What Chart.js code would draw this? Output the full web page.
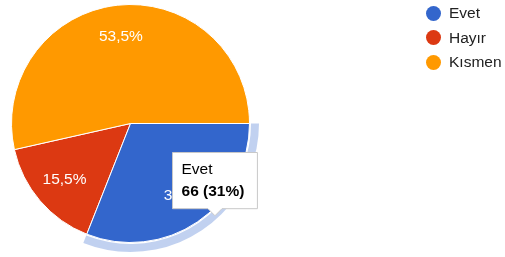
<!DOCTYPE html>
<html>
<head>
<meta charset="utf-8">
<script src="https://cdn.jsdelivr.net/npm/chart.js@4/dist/chart.umd.min.js"></script>
<style>
  html, body { margin: 0; padding: 0; background: #fff; }
  #wrap { position: relative; width: 505px; height: 257px; }
  #legend {
    position: absolute;
    left: 426px;
    top: 1px;
    font: 15.5px 'Liberation Sans', Arial, sans-serif;
    color: #222;
  }
  .legend-item { display: flex; align-items: center; height: 24.5px; }
  .legend-dot { width: 15px; height: 15px; border-radius: 50%; margin-right: 8px; }
</style>
</head>
<body>
<div id="wrap">
  <canvas id="pie" width="505" height="257"></canvas>
  <div id="legend"></div>
</div>
<script>
const labels = ['Evet', 'Hayır', 'Kısmen'];
const counts = [66, 33, 114];
const colors = ['#3366cc', '#dc3912', '#ff9900'];
const highlighted = 0; // slice under the cursor in the screenshot

const FONT = "'Liberation Sans', Arial, sans-serif";
const total = counts.reduce((a, b) => a + b, 0);

function percentText(value) {
  const p = Math.round((value / total) * 1000) / 10;
  return String(p).replace('.', ',') + '%';
}

// legend, built from the same arrays
const legendBox = document.getElementById('legend');
labels.forEach((label, i) => {
  const row = document.createElement('div');
  row.className = 'legend-item';
  const dot = document.createElement('span');
  dot.className = 'legend-dot';
  dot.style.background = colors[i];
  row.appendChild(dot);
  row.appendChild(document.createTextNode(label));
  legendBox.appendChild(row);
});

// light ring around the hovered slice
const hoverRing = {
  id: 'hoverRing',
  afterDatasetsDraw(chart) {
    const { ctx } = chart;
    chart.getActiveElements().forEach(({ element, index }) => {
      const { x, y, startAngle, endAngle, outerRadius } = element.getProps(
        ['x', 'y', 'startAngle', 'endAngle', 'outerRadius'],
        true
      );
      ctx.save();
      ctx.globalAlpha = 0.3;
      ctx.fillStyle = colors[index];
      ctx.beginPath();
      ctx.arc(x, y, outerRadius + 9.5, startAngle, endAngle);
      ctx.arc(x, y, outerRadius + 1.5, endAngle, startAngle, true);
      ctx.closePath();
      ctx.fill();
      ctx.restore();
    });
  },
};

// percentage labels inside the slices
const sliceLabels = {
  id: 'sliceLabels',
  afterDatasetsDraw(chart) {
    const { ctx } = chart;
    ctx.save();
    ctx.font = '15.5px ' + FONT;
    ctx.fillStyle = '#fff';
    ctx.textAlign = 'center';
    ctx.textBaseline = 'middle';
    chart.getDatasetMeta(0).data.forEach((arc, i) => {
      const { x, y, startAngle, endAngle, outerRadius } = arc.getProps(
        ['x', 'y', 'startAngle', 'endAngle', 'outerRadius'],
        true
      );
      const mid = (startAngle + endAngle) / 2;
      const r = outerRadius * 0.73;
      ctx.fillText(percentText(counts[i]), x + Math.cos(mid) * r, y + Math.sin(mid) * r);
    });
    ctx.restore();
  },
};

Chart.Tooltip.positioners.cursor = function (elements) {
  if (!elements.length) return false;
  const p = elements[0].element.tooltipPosition();
  return { x: p.x + 51, y: p.y + 43 };
};

const chart = new Chart(document.getElementById('pie'), {
  type: 'pie',
  plugins: [hoverRing, sliceLabels],
  data: {
    labels: labels,
    datasets: [
      {
        data: counts,
        backgroundColor: colors,
        hoverBackgroundColor: colors,
        borderColor: '#fff',
        hoverBorderColor: '#fff',
        borderWidth: 1,
        hoverBorderWidth: 1,
        hoverOffset: 0,
      },
    ],
  },
  options: {
    responsive: false,
    animation: false,
    events: [],
    rotation: 90,
    layout: {
      padding: { left: 11, top: 4, right: 255, bottom: 14 },
    },
    plugins: {
      legend: { display: false },
      tooltip: {
        enabled: true,
        position: 'cursor',
        xAlign: 'center',
        yAlign: 'bottom',
        backgroundColor: '#fff',
        borderColor: '#c8c8c8',
        borderWidth: 1,
        cornerRadius: 0,
        caretSize: 7,
        caretPadding: 0,
        displayColors: false,
        titleColor: '#000',
        bodyColor: '#000',
        titleFont: { family: FONT, size: 15.5, weight: 'normal' },
        bodyFont: { family: FONT, size: 15.5, weight: 'bold' },
        titleMarginBottom: 3,
        padding: { top: 8, bottom: 8, left: 9, right: 13 },
        callbacks: {
          title: (items) => labels[items[0].dataIndex],
          label: (item) => counts[item.dataIndex] + ' (' + percentText(counts[item.dataIndex]) + ')',
        },
      },
    },
  },
});

const active = [{ datasetIndex: 0, index: highlighted }];
chart.setActiveElements(active);
chart.tooltip.setActiveElements(active, { x: 0, y: 0 });
chart.update();
</script>
</body>
</html>
